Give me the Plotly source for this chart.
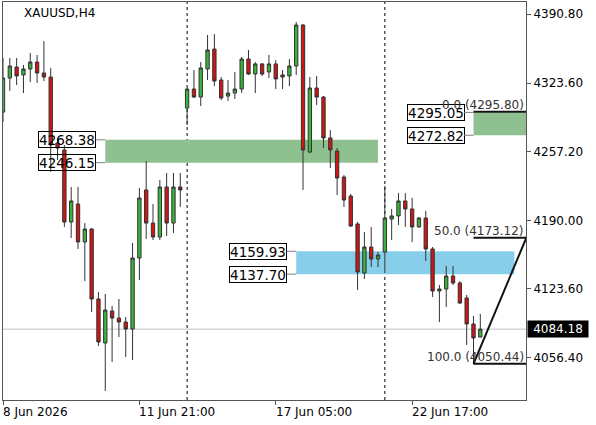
import plotly.graph_objects as go

# ---------------- data ----------------
symbol_title = "XAUUSD,H4"

bar_index = list(range(71))

open_ = [4295.4, 4328.5, 4339.2, 4331.5, 4337.3, 4344.1, 4333.4, 4329.5, 4265.3, 4258.5,
         4188.4, 4205.9, 4169.0, 4181.6, 4113.5, 4070.7, 4101.8, 4095.0, 4091.1, 4084.3,
         4153.4, 4219.6, 4187.4, 4173.8, 4222.5, 4187.4, 4222.5, 4299.3, 4317.8, 4310.0,
         4337.3, 4356.7, 4326.6, 4311.0, 4313.9, 4317.8, 4347.0, 4332.4, 4342.2, 4334.4,
         4342.2, 4331.5, 4330.5, 4340.2, 4380.1, 4256.5, 4318.8, 4310.0, 4270.2, 4257.5,
         4232.2, 4213.7, 4186.5, 4138.8, 4164.1, 4152.4, 4159.2, 4191.3, 4194.3, 4208.9,
         4201.1, 4183.6, 4192.3, 4162.2, 4121.3, 4123.2, 4135.9, 4129.1, 4114.5, 4089.2,
         4076.5]
high = [4348.0, 4348.0, 4348.0, 4341.2, 4352.9, 4350.9, 4364.5, 4338.3, 4270.2, 4263.3,
        4222.5, 4222.5, 4187.4, 4182.6, 4120.3, 4118.4, 4106.7, 4113.5, 4096.0, 4168.0,
        4221.5, 4247.8, 4205.9, 4229.3, 4236.1, 4236.1, 4236.1, 4318.8, 4336.3, 4344.1,
        4370.4, 4371.3, 4329.5, 4326.6, 4334.4, 4349.0, 4355.8, 4344.1, 4343.1, 4350.9,
        4346.0, 4336.3, 4347.0, 4383.0, 4381.1, 4329.5, 4330.5, 4311.0, 4277.9, 4260.4,
        4234.1, 4215.7, 4188.4, 4178.7, 4183.6, 4159.2, 4223.5, 4201.1, 4216.6, 4216.6,
        4211.8, 4193.3, 4199.1, 4164.1, 4127.1, 4145.6, 4145.6, 4131.0, 4117.4, 4097.0,
        4098.9]
low = [4285.7, 4315.9, 4321.7, 4313.9, 4324.6, 4323.7, 4325.6, 4237.1, 4248.7, 4183.6,
       4172.9, 4162.2, 4131.0, 4100.9, 4067.8, 4024.0, 4052.2, 4076.5, 4057.1, 4054.2,
       4132.0, 4171.9, 4170.9, 4170.9, 4174.8, 4177.7, 4203.0, 4282.8, 4309.1, 4301.3,
       4326.6, 4320.7, 4307.1, 4306.2, 4308.1, 4313.9, 4331.5, 4313.9, 4330.5, 4328.5,
       4317.8, 4317.8, 4320.7, 4331.5, 4219.6, 4255.6, 4302.3, 4260.4, 4241.0, 4214.7,
       4203.0, 4183.6, 4122.3, 4133.0, 4144.6, 4144.6, 4138.8, 4170.9, 4185.5, 4183.6,
       4169.0, 4183.0, 4150.5, 4115.5, 4091.1, 4105.7, 4127.1, 4108.6, 4068.8, 4050.44,
       4076.0]
close = [4328.5, 4340.2, 4330.5, 4337.3, 4344.1, 4333.4, 4329.5, 4263.3, 4260.4, 4188.4,
         4208.9, 4169.0, 4181.6, 4113.5, 4071.7, 4102.8, 4095.0, 4091.1, 4084.3, 4153.4,
         4211.8, 4187.4, 4173.8, 4222.5, 4187.4, 4222.5, 4219.6, 4317.8, 4310.0, 4338.3,
         4355.8, 4325.6, 4309.1, 4313.9, 4317.8, 4347.0, 4332.4, 4342.2, 4332.4, 4342.2,
         4327.6, 4329.5, 4340.2, 4380.1, 4258.5, 4318.8, 4310.0, 4270.2, 4258.5, 4231.2,
         4209.8, 4184.5, 4139.8, 4164.1, 4152.4, 4156.3, 4192.3, 4194.3, 4208.9, 4201.1,
         4183.6, 4192.3, 4162.2, 4121.3, 4123.2, 4135.9, 4129.1, 4109.6, 4089.2, 4075.6,
         4084.18]

last_price = 4084.18

y_tick_values = [4056.40, 4123.60, 4190.00, 4257.20, 4323.60, 4390.80]
y_tick_labels = [f"{v:.2f}" for v in y_tick_values]

x_tick_bars = [0, 20, 40, 60]
x_tick_labels = ["8 Jun 2026", "11 Jun 21:00", "17 Jun 05:00", "22 Jun 17:00"]

separator_bars = [27, 56]

zone_start = [15, 43, 69]
zone_end = [55, 75, 80]
zone_high = [4268.38, 4159.93, 4295.05]
zone_low = [4246.15, 4137.70, 4272.82]
zone_kind = ["supply", "demand", "supply"]

fib_bar_a = 69
fib_bar_b = 84.5
fib_price_100 = 4050.44
fib_price_0 = 4295.80
fib_levels = [0.0, 50.0, 100.0]

# ---------------- figure ----------------
FONT = "DejaVu Sans"
zone_fill = {"supply": "#8fc08f", "demand": "#87ceeb"}

fig = go.Figure()
fig.add_trace(go.Candlestick(
    x=bar_index, open=open_, high=high, low=low, close=close,
    increasing=dict(fillcolor="#3cb43c", line=dict(color="#333333", width=1)),
    decreasing=dict(fillcolor="#d21414", line=dict(color="#333333", width=1)),
    whiskerwidth=0, showlegend=False, hoverinfo="skip",
))

shapes = []
annotations = []

# zones
for s, e, hi, lo, k in zip(zone_start, zone_end, zone_high, zone_low, zone_kind):
    shapes.append(dict(type="rect", xref="x", yref="y", x0=s, x1=e, y0=lo, y1=hi,
                       fillcolor=zone_fill[k], line=dict(width=0), layer="below"))
    for p in (hi, lo):
        annotations.append(dict(
            x=s, y=p, xref="x", yref="y", text=f"{p:.2f}", showarrow=True,
            arrowhead=0, arrowwidth=1, arrowcolor="#808080", ax=-38, ay=0,
            font=dict(family=FONT, size=13.5, color="black"),
            bordercolor="black", borderwidth=1, borderpad=0,
            bgcolor="rgba(255,255,255,0)", width=56, height=15,
        ))

# last price line
shapes.append(dict(type="line", xref="paper", yref="y", x0=0, x1=1,
                   y0=last_price, y1=last_price,
                   line=dict(color="#c0c0c0", width=1), layer="below"))

# period separators
for b in separator_bars:
    shapes.append(dict(type="line", xref="x", yref="paper", x0=b, x1=b, y0=0, y1=1,
                       line=dict(color="black", width=1, dash="dot"), layer="below"))

# fibonacci
for lvl in fib_levels:
    price = fib_price_0 + (fib_price_100 - fib_price_0) * lvl / 100.0
    shapes.append(dict(type="line", xref="x", yref="y", x0=fib_bar_a, x1=90,
                       y0=price, y1=price, line=dict(color="#111111", width=2)))
    annotations.append(dict(
        x=1, xref="paper", y=price, yref="y", xanchor="right", yanchor="bottom",
        text=f"{lvl:.1f} ({price:.2f})", showarrow=False, yshift=-2,
        font=dict(family=FONT, size=12, color="#333333"),
    ))
shapes.append(dict(type="line", xref="x", yref="y", x0=fib_bar_a, x1=fib_bar_b,
                   y0=fib_price_100, y1=fib_price_0,
                   line=dict(color="#111111", width=2)))

# x tick labels (left aligned like the terminal)
for b, lab in zip(x_tick_bars, x_tick_labels):
    annotations.append(dict(
        x=b, xref="x", y=0, yref="paper", xanchor="left", yanchor="top",
        text=lab, showarrow=False, yshift=-3, xshift=-2,
        font=dict(family=FONT, size=12, color="black"),
    ))

# last price tag
annotations.append(dict(
    x=1, xref="paper", y=last_price, yref="y", xanchor="left", yanchor="middle",
    text=f"{last_price:.2f}", showarrow=False, bgcolor="black", xshift=1,
    font=dict(family=FONT, size=12, color="white"), width=58, height=14, borderpad=1,
))

# title
annotations.append(dict(
    x=0.036, xref="paper", y=0.972, yref="paper", xanchor="left", yanchor="middle",
    text=symbol_title, showarrow=False,
    font=dict(family=FONT, size=12, color="black"),
))

fig.update_layout(
    width=596, height=425,
    margin=dict(l=3, r=70, t=2, b=25),
    paper_bgcolor="white", plot_bgcolor="white",
    boxgap=0.3,
    shapes=shapes, annotations=annotations,
    showlegend=False,
    xaxis=dict(range=[0, 76.7], showgrid=False, zeroline=False,
               showline=True, linecolor="#555555", linewidth=1, mirror=True,
               ticks="outside", ticklen=4, tickcolor="#555555",
               tickvals=x_tick_bars, showticklabels=False,
               rangeslider=dict(visible=False), fixedrange=True),
    yaxis=dict(range=[4015.24, 4402.48], side="right", showgrid=False, zeroline=False,
               showline=True, linecolor="#555555", linewidth=1, mirror=True,
               ticks="outside", ticklen=4, tickcolor="#555555",
               tickvals=y_tick_values, ticktext=y_tick_labels,
               tickfont=dict(family=FONT, size=12, color="black"), fixedrange=True),
)

fig.write_html("out.html")
